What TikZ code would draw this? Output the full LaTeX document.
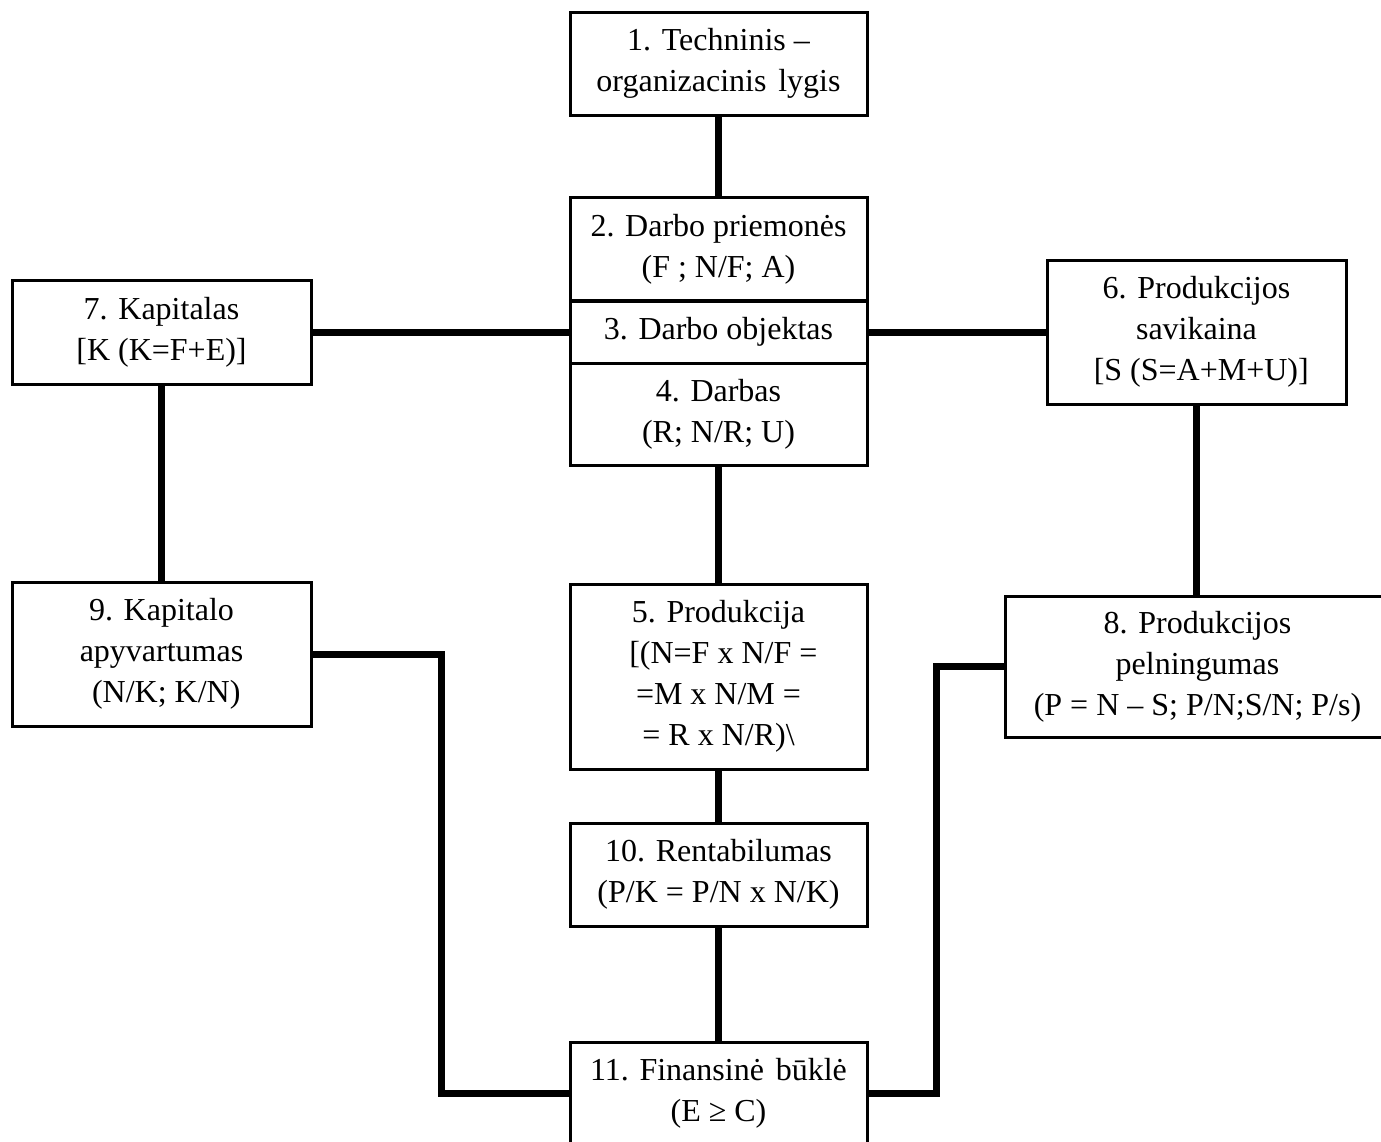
\documentclass[tikz,border=0pt]{standalone}
\usepackage{fontspec}
\setmainfont{Liberation Serif}
\begin{document}
\begin{tikzpicture}[x=1pt,y=-1pt,
  box/.style={draw, line width=3pt, align=center, inner sep=0pt,
    font=\fontsize{32}{41}\selectfont},
  link/.style={line width=7pt}]
\useasboundingbox (0,0) rectangle (1381,1141);

% central column
\node[box, minimum width=297, minimum height=103] (n1) at (718.5,63.5)
  {1. Techninis --\\organizacinis\hspace{0.12em} lygis};
\node[box, minimum width=297, minimum height=103] (n2) at (718.5,249)
  {2. Darbo priemonės\\(F ; N/F; A)};
\node[box, minimum width=297, minimum height=62] (n3) at (718.5,332)
  {3. Darbo objektas};
\node[box, minimum width=297, minimum height=102] (n4) at (718.5,414)
  {4. Darbas\\(R; N/R; U)};
\node[box, minimum width=297, minimum height=185] (n5) at (718.5,676.5)
  {5. Produkcija\\\hspace{0.3em}[(N=F x N/F =\\=M x N/M =\\= R x N/R)\textbackslash};
\node[box, minimum width=297, minimum height=103] (n10) at (718.5,874.5)
  {10. Rentabilumas\\(P/K = P/N x N/K)};
\node[box, minimum width=297, minimum height=103] (n11) at (718.5,1093.5)
  {11. Finansinė\hspace{0.12em} būklė\\(E ≥ C)};

% left column
\node[box, minimum width=299, minimum height=104] (n7) at (161.5,332)
  {7. Kapitalas\\{[K (K=F+E)]}};
\node[box, minimum width=299, minimum height=144] (n9) at (161.5,654)
  {9. Kapitalo\\apyvartumas\\\hspace{0.3em}(N/K; K/N)};

% right column
\node[box, minimum width=299, minimum height=144] (n6) at (1196.5,332)
  {6. Produkcijos\\savikaina\\\hspace{0.3em}[S (S=A+M+U)]};
\node[box, minimum width=385, minimum height=141] (n8) at (1197.5,666.5)
  {8. Produkcijos\\pelningumas\\(P = N -- S; P/N;S/N; P/s)};

% connectors
\draw[link] (n1.south) -- (n2.north);
\draw[link] (n7.east) -- (n3.west);
\draw[link] (n3.east) -- (n6.west);
\draw[link] (n4.south) -- (n5.north);
\draw[link] (n5.south) -- (n10.north);
\draw[link] (n10.south) -- (n11.north);
\draw[link] (n7.south) -- (n9.north);
\draw[link] (n6.south) -- (n6.south |- n8.north);
\draw[link] (n9.east) -- ++(129,0) |- (n11.west);
\draw[link] (n8.west) -- ++(-67,0) |- (n11.east);
\end{tikzpicture}
\end{document}
